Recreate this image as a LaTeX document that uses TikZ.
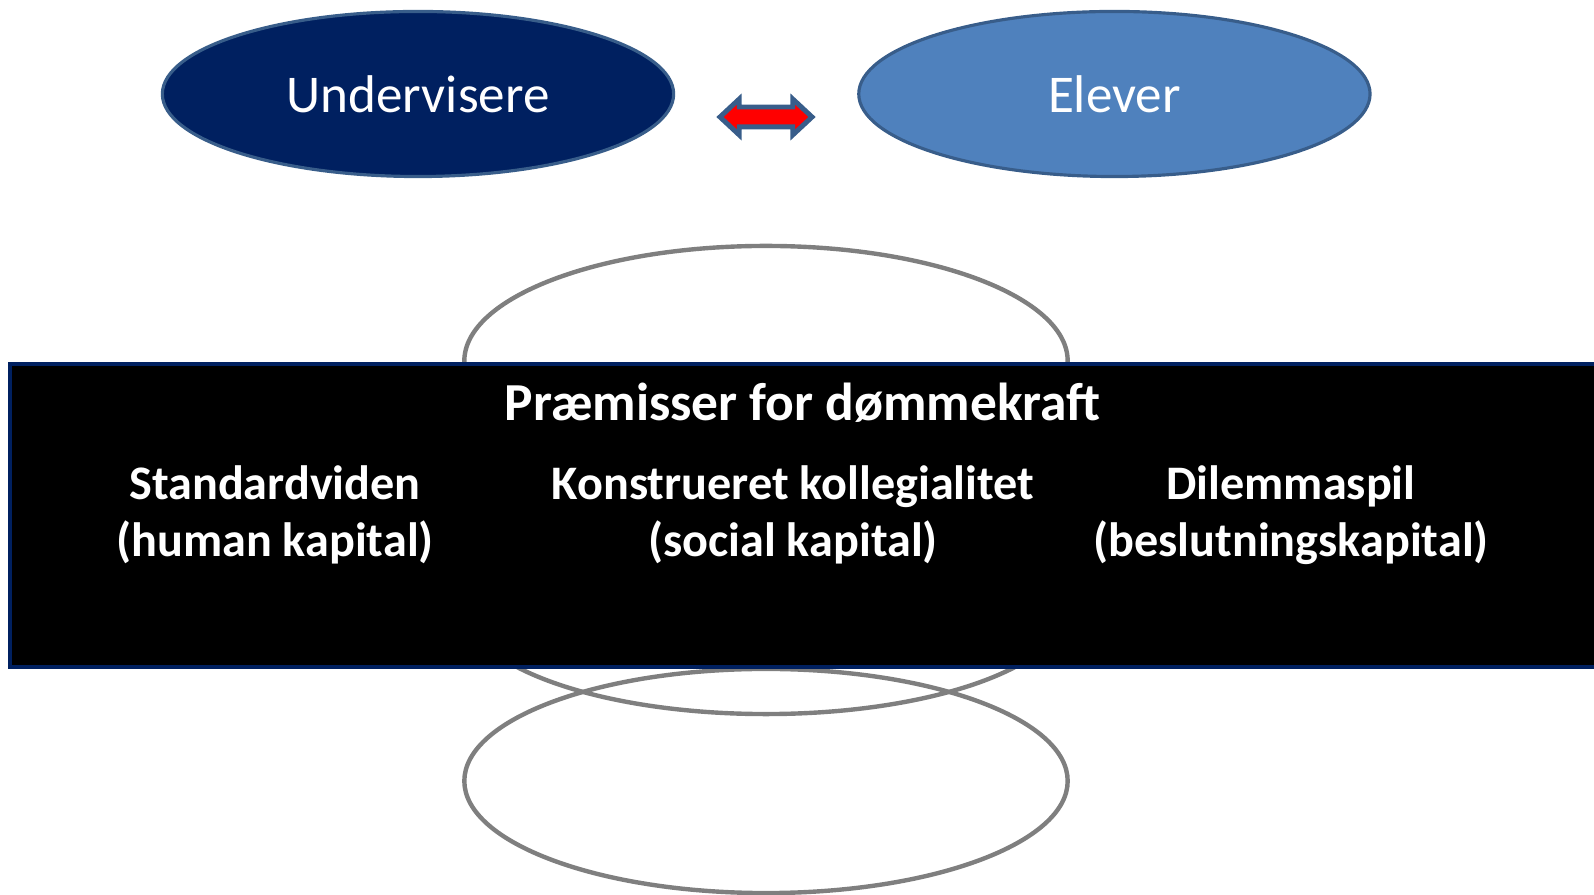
\documentclass[tikz,border=0pt]{standalone}
\usepackage{fontspec}
\setmainfont{Carlito}
\usetikzlibrary{shapes.geometric, shapes.arrows}
\definecolor{navy}{RGB}{0,32,96}
\definecolor{steel}{RGB}{79,129,189}
\definecolor{outline}{RGB}{56,93,138}
\definecolor{ringgray}{RGB}{127,127,127}
\tikzstyle{actor} = [ellipse, minimum width=5.11cm, minimum height=1.65cm, inner sep=0pt, draw=outline, line width=0.9pt, text=white, font=\fontsize{15.1}{18}\selectfont]
\tikzstyle{ring} = [ellipse, minimum width=6.03cm, inner sep=0pt, draw=ringgray, line width=1.25pt]
\tikzstyle{premise} = [align=center, text=white, font=\bfseries\fontsize{13.7}{16.2}\selectfont]
\tikzstyle{link} = [double arrow, fill=red, draw=outline, line width=1.4pt, inner sep=0.075cm, minimum height=0.92cm, double arrow head extend=0.08cm, double arrow tip angle=86]

\begin{document}
\begin{tikzpicture}[x=0.01cm, y=-0.01cm]
        \useasboundingbox (0,0) rectangle (1594,895);
        \clip (0,0) rectangle (1594,895);
        \node (undervisere) [actor, fill=navy] at (418,94) {Undervisere};
        \node (elever) [actor, fill=steel, right of = undervisere, node distance=6.96cm] {Elever};
        \node (relation) [link] at (766,117) {};

        \node (top_ring) [ring, minimum height=2.3cm] at (766,361) {};
        \node (middle_ring) [ring, minimum height=2.16cm] at (766,606) {};
        \node (bottom_ring) [ring, minimum height=2.24cm] at (766,781) {};
        \node (board) [anchor=north west, draw=navy, fill=black, line width=1.1pt, minimum width=16.2cm, minimum height=3.03cm, inner sep=0pt] at (8,362) {};

        \node (premisser) [premise, font=\bfseries\fontsize{15.2}{18}\selectfont] at (803,403) {Præmisser for dømmekraft};
        \node (human) [premise] at (275,515) {Standardviden\\(human kapital)};
        \node (social) [premise] at (793,515) {Konstrueret kollegialitet\\(social kapital)};
        \node (beslutning) [premise] at (1291,515) {Dilemmaspil\\(beslutningskapital)};
\end{tikzpicture}
\end{document}
